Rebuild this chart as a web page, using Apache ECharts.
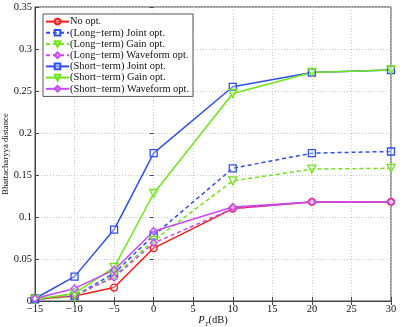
<!DOCTYPE html>
<html>
<head>
<meta charset="utf-8">
<script src="https://cdn.jsdelivr.net/npm/echarts@6/dist/echarts.min.js"></script>
<style>
  html, body { margin: 0; padding: 0; background: #fff; }
  #chart { width: 409px; height: 327px; }
</style>
</head>
<body>
<div id="chart"></div>
<script>
// x 轴取值 (dB)
const ptDb = [-15, -10, -5, 0, 10, 20, 30]

const noOpt = [0.002, 0.006, 0.016, 0.063, 0.110, 0.118, 0.118]
const longJoint = [0.002, 0.006, 0.033, 0.078, 0.158, 0.176, 0.178]
const longGain = [0.002, 0.005, 0.030, 0.072, 0.143, 0.157, 0.158]
const longWave = [0.002, 0.007, 0.028, 0.069, 0.110, 0.118, 0.118]
const shortJoint = [0.003, 0.029, 0.085, 0.176, 0.255, 0.272, 0.275]
const shortGain = [0.002, 0.009, 0.040, 0.128, 0.247, 0.272, 0.275]
const shortWave = [0.003, 0.015, 0.037, 0.083, 0.112, 0.118, 0.118]

const RED = '#ff1a1a'
const BLUE = '#2f4ff0'
const GREEN = '#6fe51a'
const MAGENTA = '#c848f5'
const FONT = 'Liberation Serif'

const chart = echarts.init(document.getElementById('chart'))

const pair = (arr) => ptDb.map((x, i) => [x, arr[i]])

const mkSeries = (name, arr, color, symbol, dashed, rotate) => ({
  name: name,
  type: 'line',
  data: pair(arr),
  symbol: symbol,
  symbolSize: symbol === 'triangle' ? 8 : 7,
  symbolRotate: rotate || 0,
  showAllSymbol: true,
  lineStyle: { color: color, width: 1.5, type: dashed ? [4, 3] : 'solid' },
  itemStyle: { color: 'rgba(255,255,255,0.3)', borderColor: color, borderWidth: 1.3 },
  emphasis: { disabled: true },
  animation: false
})

const option = {
  backgroundColor: '#fff',
  grid: {
    left: 35, right: 18, top: 7, bottom: 26,
    outerBoundsMode: 'none',
    show: true, borderColor: '#444', borderWidth: 1
  },
  legend: {
    orient: 'vertical',
    left: 43, top: 14,
    itemWidth: 23, itemHeight: 7, itemGap: 0,
    padding: [2, 4, 2, 2],
    backgroundColor: '#fff',
    borderColor: '#555', borderWidth: 1,
    textStyle: { fontFamily: FONT, fontSize: 10.4, lineHeight: 11.2, color: '#111', padding: [0, 0, 0, -4] },
    data: ['No opt.', '(Long\u2212term) Joint opt.', '(Long\u2212term) Gain opt.', '(Long\u2212term) Waveform opt.',
      '(Short\u2212term) Joint opt.', '(Short\u2212term) Gain opt.', '(Short\u2212term) Waveform opt.']
  },
  xAxis: [{
    type: 'value', min: -15, max: 30, interval: 5,
    name: '{i|P}{s|T}{n|(dB)}',
    nameLocation: 'middle', nameGap: 12, nameMoveOverlap: false,
    nameTextStyle: {
      rich: {
        i: { fontFamily: FONT, fontStyle: 'italic', fontSize: 10.5, color: '#111' },
        s: { fontFamily: FONT, fontStyle: 'italic', fontSize: 7, color: '#111', padding: [8, 0, 0, 0] },
        n: { fontFamily: FONT, fontSize: 10.5, color: '#111' }
      }
    },
    axisLine: { show: true, onZero: false, lineStyle: { color: '#444' } },
    axisTick: { inside: true, length: 4, lineStyle: { color: '#444' } },
    axisLabel: {
      fontFamily: FONT, fontSize: 10.5, color: '#111', margin: 3,
      formatter: (v) => String(v).replace('-', '\u2212')
    },
    splitLine: { lineStyle: { color: '#c8c8c8', type: [1, 2] } }
  }, {
    type: 'value', position: 'top', min: -15, max: 30, interval: 5,
    axisLine: { show: false },
    axisTick: { inside: true, length: 4, lineStyle: { color: '#444' } },
    axisLabel: { show: false }, splitLine: { show: false }
  }],
  yAxis: [{
    type: 'value', min: 0, max: 0.35, interval: 0.05,
    name: 'Bhattacharyya distance',
    nameLocation: 'middle', nameGap: 25, nameMoveOverlap: false,
    nameTextStyle: { fontFamily: FONT, fontSize: 8.8, color: '#111' },
    axisLine: { show: true, onZero: false, lineStyle: { color: '#444' } },
    axisTick: { inside: true, length: 4, lineStyle: { color: '#444' } },
    axisLabel: {
      fontFamily: FONT, fontSize: 10.5, color: '#111', margin: 3,
      formatter: (v) => String(Number(v.toFixed(2)))
    },
    splitLine: { lineStyle: { color: '#c8c8c8', type: [1, 2] } }
  }, {
    type: 'value', position: 'right', min: 0, max: 0.35, interval: 0.05,
    axisLine: { show: false },
    axisTick: { inside: true, length: 4, lineStyle: { color: '#444' } },
    axisLabel: { show: false }, splitLine: { show: false }
  }],
  series: [
    mkSeries('No opt.', noOpt, RED, 'circle', false),
    mkSeries('(Long\u2212term) Joint opt.', longJoint, BLUE, 'rect', true),
    mkSeries('(Long\u2212term) Gain opt.', longGain, GREEN, 'triangle', true, 180),
    mkSeries('(Long\u2212term) Waveform opt.', longWave, MAGENTA, 'diamond', true),
    mkSeries('(Short\u2212term) Joint opt.', shortJoint, BLUE, 'rect', false),
    mkSeries('(Short\u2212term) Gain opt.', shortGain, GREEN, 'triangle', false, 180),
    mkSeries('(Short\u2212term) Waveform opt.', shortWave, MAGENTA, 'diamond', false)
  ]
}

chart.setOption(option)
</script>
</body>
</html>
